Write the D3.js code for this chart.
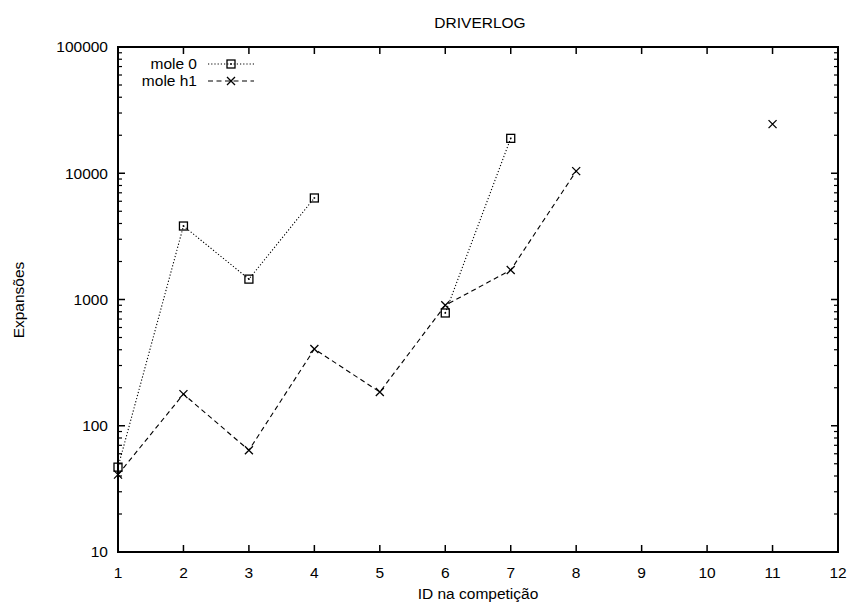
<!DOCTYPE html>
<html>
<head>
<meta charset="utf-8">
<script src="https://cdn.jsdelivr.net/npm/d3@7"></script>
<style>
  body { margin: 0; background: #fff; }
  text { font-family: "Liberation Sans", Arial, sans-serif; font-size: 15.5px; fill: #000; }
</style>
</head>
<body>
<svg id="chart" width="852" height="606"></svg>
<script>
// Expansions per competition instance, DRIVERLOG domain
const title = "DRIVERLOG";
const xLabel = "ID na competição";
const yLabel = "Expansões";
const xTicks = [1, 2, 3, 4, 5, 6, 7, 8, 9, 10, 11, 12];
const yTicks = [10, 100, 1000, 10000, 100000];

// null marks an instance with no result (breaks the line)
const ids = [1, 2, 3, 4, 5, 6, 7, 8, 9, 10, 11];
const mole0 = [47, 3820, 1450, 6370, null, 782, 18900, null, null, null, null];
const moleH1 = [41, 178, 64, 405, 185, 900, 1710, 10400, null, null, 24500];

const series = [
  { name: "mole 0", values: mole0, dash: "1.2,2", marker: "square" },
  { name: "mole h1", values: moleH1, dash: "5,3.5", marker: "cross" }
];

const svg = d3.select("#chart");
const m = { left: 118, right: 852 - 838, top: 47, bottom: 606 - 552 };
const W = 852 - m.left - m.right, H = 606 - m.top - m.bottom;

const x = d3.scaleLinear().domain([1, 12]).range([m.left, m.left + W]);
const y = d3.scaleLog().domain([10, 100000]).range([m.top + H, m.top]);

const g = svg.append("g");

// minor log ticks (2..9 within each decade)
const minor = [];
for (let d = 10; d < 100000; d *= 10) for (let k = 2; k <= 9; k++) minor.push(d * k);

const majLen = 7, minLen = 4;
// left / right ticks
yTicks.forEach(v => {
  g.append("line").attr("x1", x(1)).attr("x2", x(1) + majLen).attr("y1", y(v)).attr("y2", y(v)).attr("stroke", "#000").attr("stroke-width", 1.5);
  g.append("line").attr("x1", x(12)).attr("x2", x(12) - majLen).attr("y1", y(v)).attr("y2", y(v)).attr("stroke", "#000").attr("stroke-width", 1.5);
  g.append("text").attr("x", x(1) - 10).attr("y", y(v)).attr("dy", "0.35em").attr("text-anchor", "end").text(v);
});
minor.forEach(v => {
  g.append("line").attr("x1", x(1)).attr("x2", x(1) + minLen).attr("y1", y(v)).attr("y2", y(v)).attr("stroke", "#000").attr("stroke-width", 1.2);
  g.append("line").attr("x1", x(12)).attr("x2", x(12) - minLen).attr("y1", y(v)).attr("y2", y(v)).attr("stroke", "#000").attr("stroke-width", 1.2);
});
// bottom / top ticks
xTicks.forEach(v => {
  g.append("line").attr("x1", x(v)).attr("x2", x(v)).attr("y1", y(10)).attr("y2", y(10) - majLen).attr("stroke", "#000").attr("stroke-width", 1.5);
  g.append("line").attr("x1", x(v)).attr("x2", x(v)).attr("y1", y(100000)).attr("y2", y(100000) + majLen).attr("stroke", "#000").attr("stroke-width", 1.5);
  g.append("text").attr("x", x(v)).attr("y", y(10) + 26).attr("text-anchor", "middle").text(v);
});

// frame
g.append("rect").attr("x", m.left).attr("y", m.top).attr("width", W).attr("height", H)
  .attr("fill", "none").attr("stroke", "#000").attr("stroke-width", 2);

// titles
svg.append("text").attr("x", 480).attr("y", 28).attr("text-anchor", "middle").text(title);
svg.append("text").attr("x", 478).attr("y", 599).attr("text-anchor", "middle").text(xLabel);
svg.append("text").attr("transform", "translate(24,300) rotate(-90)").attr("text-anchor", "middle").text(yLabel);

function drawMarker(sel, type, cx, cy) {
  if (type === "square") {
    sel.append("rect").attr("x", cx - 4).attr("y", cy - 4).attr("width", 8).attr("height", 8)
      .attr("fill", "none").attr("stroke", "#000").attr("stroke-width", 1.3);
    sel.append("rect").attr("x", cx - 0.8).attr("y", cy - 0.8).attr("width", 1.6).attr("height", 1.6).attr("fill", "#000");
  } else {
    sel.append("path").attr("d", `M${cx - 4},${cy - 4}L${cx + 4},${cy + 4}M${cx - 4},${cy + 4}L${cx + 4},${cy - 4}`)
      .attr("stroke", "#000").attr("stroke-width", 1.3);
  }
}

const line = d3.line().defined(d => d[1] != null).x(d => x(d[0])).y(d => y(d[1]));

series.forEach((s, i) => {
  const pts = ids.map((id, j) => [id, s.values[j]]);
  g.append("path").datum(pts).attr("d", line).attr("fill", "none")
    .attr("stroke", "#000").attr("stroke-width", 1.1).attr("stroke-dasharray", s.dash);
  pts.filter(p => p[1] != null).forEach(p => drawMarker(g, s.marker, x(p[0]), y(p[1])));

  // legend entry
  const ly = 64 + i * 17;
  svg.append("text").attr("x", 197).attr("y", ly).attr("dy", "0.35em").attr("text-anchor", "end").text(s.name);
  svg.append("line").attr("x1", 208).attr("x2", 254).attr("y1", ly).attr("y2", ly)
    .attr("stroke", "#000").attr("stroke-width", 1.1).attr("stroke-dasharray", s.dash);
  drawMarker(svg, s.marker, 231, ly);
});
</script>
</body>
</html>
